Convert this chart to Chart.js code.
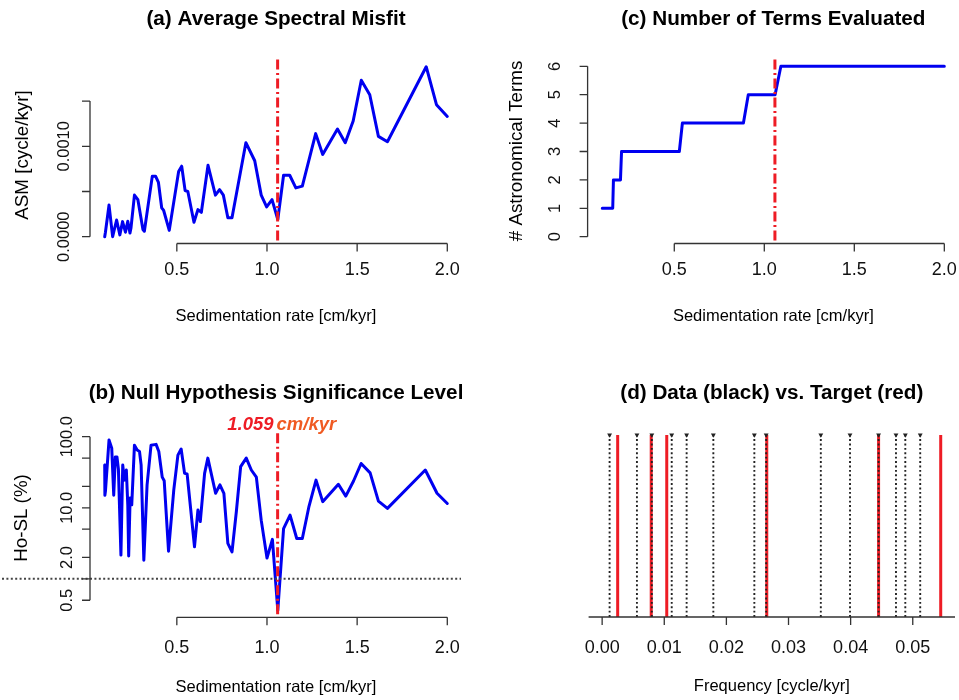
<!DOCTYPE html>
<html><head><meta charset="utf-8">
<script src="https://cdn.jsdelivr.net/npm/chart.js@4.4.1/dist/chart.umd.min.js"></script>
<style>
html,body{margin:0;padding:0;background:#fff;overflow:hidden;}
#wrap{position:relative;width:959px;height:700px;background:#fff;}
canvas{position:absolute;display:block;}
</style></head><body>
<div id="wrap">
<canvas id="pa" width="480" height="350" style="left:0;top:0"></canvas>
<canvas id="pc" width="479" height="350" style="left:480px;top:0"></canvas>
<canvas id="pb" width="480" height="350" style="left:0;top:350px"></canvas>
<canvas id="pd" width="479" height="350" style="left:480px;top:350px"></canvas>
</div>
<script>
// ---------------- data ----------------
const bestRate = 1.059;
const sigLevel = 1;

const rateA = [0.100,0.104,0.124,0.144,0.166,0.184,0.199,0.215,0.228,0.240,0.246,0.265,0.284,0.312,0.320,0.364,0.382,0.398,0.416,0.427,0.458,0.510,0.527,0.546,0.561,0.595,0.617,0.636,0.673,0.714,0.737,0.758,0.783,0.806,0.883,0.932,0.968,0.998,1.028,1.060,1.092,1.126,1.160,1.196,1.270,1.309,1.391,1.434,1.478,1.523,1.570,1.618,1.668,1.883,1.940,2.000];
const asmA = [0.00000,0.00005,0.00035,0.00000,0.000185,0.00002,0.000167,0.00005,0.00017,0.00004,0.00010,0.00046,0.00041,0.00008,0.00006,0.00067,0.00067,0.00060,0.00032,0.00029,0.00007,0.00072,0.00078,0.00051,0.00050,0.00016,0.00030,0.00027,0.00079,0.00046,0.00052,0.00046,0.00021,0.00021,0.00104,0.00084,0.00046,0.00033,0.00041,0.00019,0.00068,0.00068,0.00054,0.00056,0.00114,0.00091,0.00119,0.00104,0.00128,0.00173,0.00157,0.00111,0.00105,0.00188,0.00146,0.00133];

const rateB = [0.100,0.101,0.104,0.124,0.139,0.150,0.159,0.168,0.176,0.190,0.200,0.209,0.220,0.228,0.233,0.241,0.250,0.265,0.280,0.293,0.302,0.317,0.335,0.357,0.385,0.400,0.419,0.430,0.454,0.483,0.506,0.524,0.543,0.557,0.598,0.617,0.630,0.654,0.672,0.715,0.739,0.761,0.783,0.806,0.830,0.854,0.885,0.913,0.941,0.968,1.000,1.030,1.060,1.092,1.128,1.165,1.196,1.233,1.272,1.309,1.396,1.437,1.480,1.522,1.572,1.618,1.668,1.878,1.943,2.000];
const hoslB = [40,15,17,90,69,15,52,52,35,2.16,40,24.5,34,11,2.1,13.7,11,76,65,62,40,1.83,21,76,78,62,27,24,2.45,17.7,55,67,30.5,30,2.83,9.3,6.4,30.5,50,16,21,16,3.15,2.4,8.8,38,50,34,27,6.7,1.96,3.6,0.36,5.1,7.9,3.7,3.7,10.5,24.5,12.2,21.4,14.6,23.8,42,31,12.4,9.8,34,16,11.5];

const rateC = [0.100,0.158,0.162,0.201,0.207,0.528,0.545,0.884,0.911,1.060,1.092,2.000];
const termsC = [1,1,2,2,3,3,4,4,5,5,6,6];

const dataFreq = [0.0012,0.0056,0.0080,0.0112,0.0136,0.0179,0.0245,0.0264,0.0352,0.0399,0.0445,0.0473,0.0488,0.0512];
const targetFreq = [0.0025,0.0079,0.0104,0.0265,0.0445,0.0545];

const rateTicks = [0.5,1.0,1.5,2.0];
const rateTickLabels = ['0.5','1.0','1.5','2.0'];
const asmTicks = [0,0.0005,0.0010,0.0015];
const asmTickLabels = ['0.0000','','0.0010',''];
const hoslTicks = [0.5,1,2,5,10,20,50,100];
const hoslTickLabels = ['0.5','','2.0','','10.0','','','100.0'];
const termTicks = [0,1,2,3,4,5,6];
const termTickLabels = ['0','1','2','3','4','5','6'];
const freqTicks = [0,0.01,0.02,0.03,0.04,0.05];
const freqTickLabels = ['0.00','0.01','0.02','0.03','0.04','0.05'];

const titleA = '(a) Average Spectral Misfit';
const titleB = '(b) Null Hypothesis Significance Level';
const titleC = '(c) Number of Terms Evaluated';
const titleD = '(d) Data (black) vs. Target (red)';
const xTitleRate = 'Sedimentation rate [cm/kyr]';
const xTitleFreq = 'Frequency [cycle/kyr]';
const yTitleA = 'ASM [cycle/kyr]';
const yTitleB = 'Ho-SL (%)';
const yTitleC = '# Astronomical Terms';
const noteRate = '1.059';
const noteUnit = 'cm/kyr';

// ---------------- drawing helpers ----------------
const FONT = '"Liberation Sans", Arial, Helvetica, sans-serif';
const BLUE = '#0000f0';
const RED = '#ee1c25';

function rAxes(o) {
  return {
    id: 'rAxes',
    afterDatasetsDraw(chart) {
      const ctx = chart.ctx, ca = chart.chartArea;
      const xs = chart.scales.x, ys = chart.scales.y;
      ctx.save();
      if (o.hline != null) {
        const y = ys.getPixelForValue(o.hline);
        ctx.strokeStyle = '#444'; ctx.lineWidth = 2; ctx.setLineDash([2, 2.4]);
        ctx.beginPath(); ctx.moveTo(o.hlineFrom, y); ctx.lineTo(ca.right, y); ctx.stroke();
      }
      if (o.vline != null) {
        const x = xs.getPixelForValue(o.vline);
        ctx.strokeStyle = RED; ctx.lineWidth = 3; ctx.setLineDash([10, 3.5, 2, 3.5]);
        ctx.beginPath(); ctx.moveTo(x, ca.top); ctx.lineTo(x, ca.bottom); ctx.stroke();
      }
      ctx.setLineDash([]);
      ctx.strokeStyle = '#333'; ctx.lineWidth = 1.3; ctx.fillStyle = '#111';
      // x axis
      if (o.xTicks) {
        const y0 = ca.bottom;
        const px = o.xTicks.map(v => xs.getPixelForValue(v));
        ctx.beginPath();
        if (o.xFull) { ctx.moveTo(ca.left, y0); ctx.lineTo(ca.right, y0); }
        else { ctx.moveTo(px[0], y0); ctx.lineTo(px[px.length - 1], y0); }
        px.forEach(p => { ctx.moveTo(p, y0); ctx.lineTo(p, y0 + 8); });
        ctx.stroke();
        ctx.font = '18px ' + FONT; ctx.textAlign = 'center'; ctx.textBaseline = 'middle';
        px.forEach((p, i) => { if (o.xLabels[i]) ctx.fillText(o.xLabels[i], p, o.xLabelY); });
      }
      // y axis
      if (o.yTicks) {
        const x0 = ca.left - 1;
        const py = o.yTicks.map(v => ys.getPixelForValue(v));
        ctx.beginPath();
        ctx.moveTo(x0, py[0]); ctx.lineTo(x0, py[py.length - 1]);
        py.forEach(p => { ctx.moveTo(x0, p); ctx.lineTo(x0 - 8, p); });
        ctx.stroke();
        ctx.font = '16.5px ' + FONT; ctx.textAlign = 'center'; ctx.textBaseline = 'alphabetic';
        py.forEach((p, i) => {
          if (!o.yLabels[i]) return;
          ctx.save(); ctx.translate(o.yLabelX, p); ctx.rotate(-Math.PI / 2);
          ctx.fillText(o.yLabels[i], 0, 0); ctx.restore();
        });
      }
      const cx = (ca.left + ca.right) / 2;
      // title
      ctx.fillStyle = '#000';
      ctx.font = 'bold 20.7px ' + FONT; ctx.textAlign = 'center'; ctx.textBaseline = 'middle';
      ctx.fillText(o.title, cx, o.titleY);
      // x title
      ctx.font = '16.5px ' + FONT;
      ctx.fillText(o.xTitle, cx, o.xTitleY);
      // y title
      if (o.yTitle) {
        ctx.font = '18.8px ' + FONT;
        ctx.save(); ctx.translate(o.yTitleX, o.yTitleY); ctx.rotate(-Math.PI / 2);
        ctx.fillText(o.yTitle, 0, 0); ctx.restore();
      }
      // annotation
      if (o.note) {
        ctx.font = 'italic bold 18.5px ' + FONT; ctx.textAlign = 'left';
        const w1 = ctx.measureText(o.note[0]).width, w2 = ctx.measureText(o.note[1]).width;
        const gap = 3, start = o.noteX - (w1 + gap + w2) / 2;
        ctx.fillStyle = RED; ctx.fillText(o.note[0], start, o.noteY);
        ctx.fillStyle = '#f05a22'; ctx.fillText(o.note[1], start + w1 + gap, o.noteY);
      }
      ctx.restore();
    }
  };
}

function panel(id, pad, xScale, yScale, datasets, ax) {
  return new Chart(document.getElementById(id), {
    type: 'line',
    data: { datasets },
    options: {
      responsive: false, animation: false, events: [],
      layout: { padding: pad },
      scales: {
        x: Object.assign({ type: 'linear', display: false }, xScale),
        y: Object.assign({ type: 'linear', display: false }, yScale)
      },
      plugins: { legend: { display: false }, tooltip: { enabled: false }, title: { display: false } }
    },
    plugins: [rAxes(ax)]
  });
}

function blueLine(xs, ys) {
  return {
    data: xs.map((x, i) => ({ x: x, y: ys[i] })),
    borderColor: BLUE, borderWidth: 3, pointRadius: 0, tension: 0, fill: false,
    borderCapStyle: 'round', borderJoinStyle: 'round'
  };
}

const rateRange = { min: 0.024, max: 2.076 };

// (a)
panel('pa', { left: 91, right: 19, top: 59.5, bottom: 106.5 }, rateRange,
  { min: -0.0000752, max: 0.00196 },
  [blueLine(rateA, asmA)],
  { vline: bestRate, xTicks: rateTicks, xLabels: rateTickLabels, xLabelY: 270,
    yTicks: asmTicks, yLabels: asmTickLabels, yLabelX: 69,
    title: titleA, titleY: 19, xTitle: xTitleRate, xTitleY: 316,
    yTitle: yTitleA, yTitleX: 23, yTitleY: 155 });

// (c)
panel('pc', { left: 108.6, right: 1, top: 59.5, bottom: 106.5 }, rateRange,
  { min: -0.24, max: 6.24 },
  [blueLine(rateC, termsC)],
  { vline: bestRate, xTicks: rateTicks, xLabels: rateTickLabels, xLabelY: 270,
    yTicks: termTicks, yLabels: termTickLabels, yLabelX: 79.5,
    title: titleC, titleY: 19, xTitle: xTitleRate, xTitleY: 316,
    yTitle: yTitleC, yTitleX: 37, yTitleY: 151 });

// (b)
panel('pb', { left: 91, right: 19, top: 83.2, bottom: 82.7 }, rateRange,
  { type: 'logarithmic', min: 0.288, max: 112 },
  [blueLine(rateB, hoslB)],
  { vline: bestRate, hline: sigLevel, hlineFrom: 2,
    xTicks: rateTicks, xLabels: rateTickLabels, xLabelY: 298,
    yTicks: hoslTicks, yLabels: hoslTickLabels, yLabelX: 72,
    title: titleB, titleY: 43, xTitle: xTitleRate, xTitleY: 337,
    yTitle: yTitleB, yTitleX: 22, yTitleY: 168,
    note: [noteRate, noteUnit], noteX: 281.7, noteY: 75 });

// (d)
const stick = f => [{ x: f, y: 0 }, { x: f, y: 1 }, { x: f, y: null }];
panel('pd', { left: 108.6, right: 1, top: 85, bottom: 83 }, { min: -0.00218, max: 0.0568 },
  { min: 0, max: 1 },
  [
    { data: dataFreq.map(f => ({ x: f, y: 1 })), showLine: false, pointStyle: 'triangle', rotation: 180,
      pointRadius: 2.8, pointBackgroundColor: '#222', pointBorderColor: '#222', pointBorderWidth: 0, clip: false, order: 0 },
    { data: dataFreq.flatMap(stick), borderColor: '#222', borderWidth: 1.9, borderDash: [1.9, 2.5],
      pointRadius: 0, spanGaps: false, clip: false, order: 1 },
    { data: targetFreq.flatMap(stick), borderColor: RED, borderWidth: 3,
      pointRadius: 0, spanGaps: false, clip: false, order: 2 }
  ],
  { xFull: true, xTicks: freqTicks, xLabels: freqTickLabels, xLabelY: 298,
    title: titleD, titleY: 43, xTitle: xTitleFreq, xTitleY: 336 });
</script>
</body></html>
